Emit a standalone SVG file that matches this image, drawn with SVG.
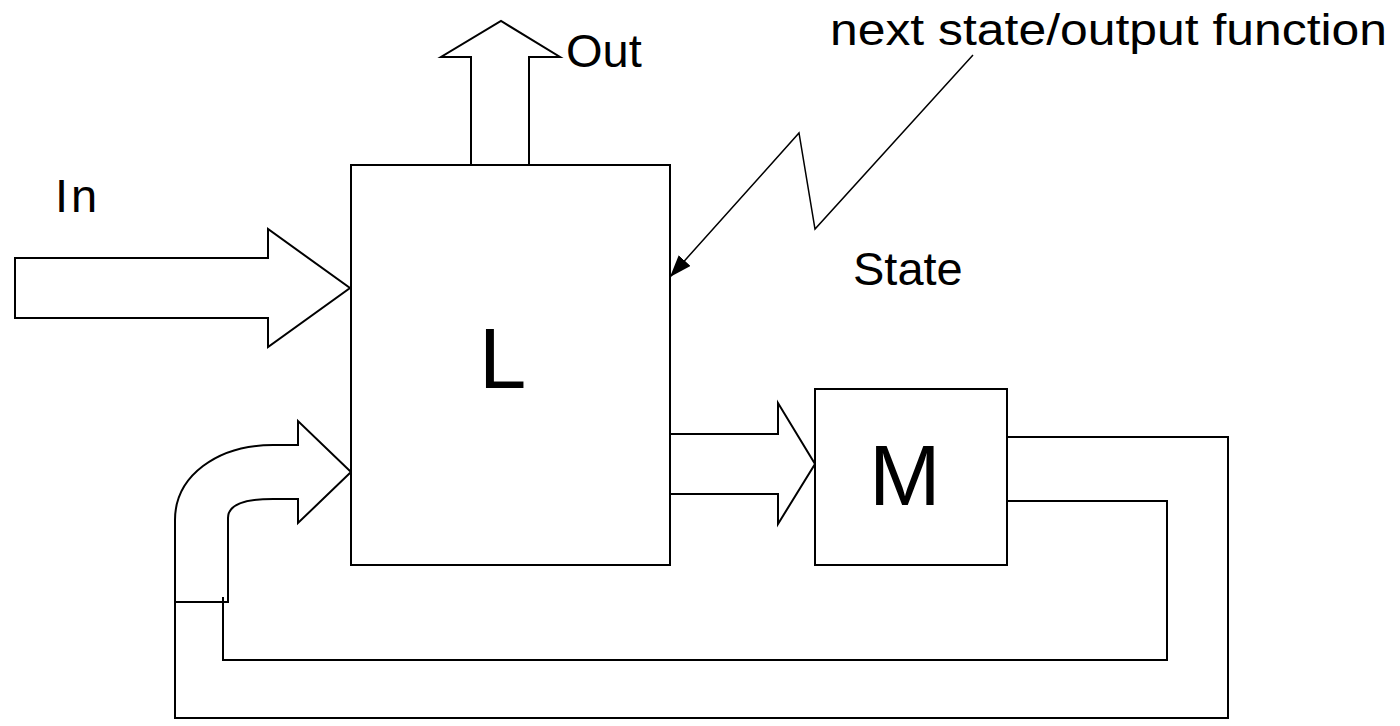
<svg xmlns="http://www.w3.org/2000/svg" width="1400" height="726" viewBox="0 0 1400 726">
<style>
.s{fill:#fff;stroke:#000;stroke-width:2;stroke-linejoin:miter}
.w{fill:none;stroke:#000;stroke-width:2}
.t{font-family:"Liberation Sans",Arial,sans-serif;fill:#000}
</style>
<defs>
<marker id="ah" markerUnits="userSpaceOnUse" markerWidth="24" markerHeight="18" refX="22" refY="8" orient="auto">
<path d="M0,0 L22,8 L0,16 Z" fill="#000"/>
</marker>
</defs>
<rect width="1400" height="726" fill="#fff"/>
<g id="connectors">
<path id="in-arrow" class="s" d="M15,258 H268 V229 L350,288 L268,347 V318 H15 Z"/>
<path id="out-arrow" class="s" d="M471,165 V57 H441 L501,21 L560,57 H529 V165"/>
<path id="lm-arrow" class="s" d="M670,434 H778 V403 L815,464 L778,524 V494 H670"/>
<path id="feedback-arrow" class="s" d="M175,602 V520 C175,476 217,445 273,445 H298 V421 L351,472 L298,523 V499 H273 C245,499 228,505 228,518 V602 Z"/>
<polyline class="w" points="175,602 175,718 1228,718 1228,437 1007,437"/>
<polyline class="w" points="223,597 223,660 1167,660 1167,501 1007,501"/>
<polyline fill="none" stroke="#000" stroke-width="1.5" points="973,55 815,229 799,133 670,277" marker-end="url(#ah)"/>
</g>
<g id="node-L">
<rect class="s" x="351" y="165" width="319" height="400"/>
<text class="t" x="479" y="388" font-size="85">L</text>
</g>
<g id="node-M">
<rect class="s" x="815" y="389" width="192" height="176"/>
<text class="t" x="869" y="505" font-size="86">M</text>
</g>
<g id="labels">
<text class="t" x="55" y="212" font-size="47" letter-spacing="3">In</text>
<text class="t" x="566" y="67" font-size="47">Out</text>
<text class="t" x="853" y="285" font-size="47">State</text>
<text class="t" x="830" y="45" font-size="44" textLength="557" lengthAdjust="spacingAndGlyphs">next state/output function</text>
</g>
</svg>
